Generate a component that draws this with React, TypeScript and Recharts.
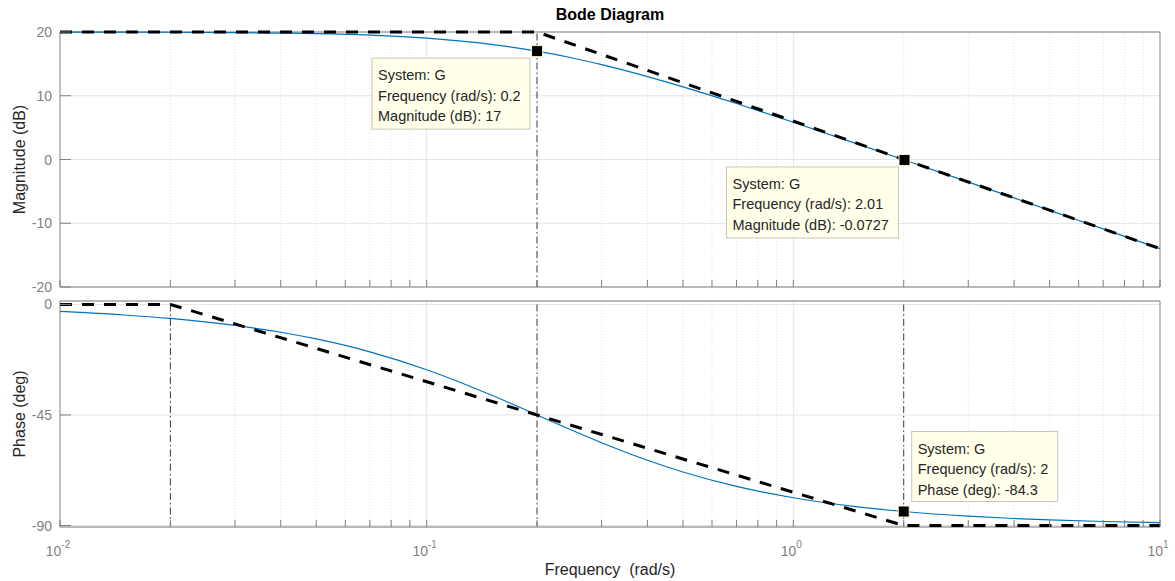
import {
  CartesianGrid,
  Label,
  Line,
  LineChart,
  ReferenceDot,
  ReferenceLine,
  XAxis,
  YAxis,
} from "recharts";

// frequency response of G (rad/s, dB, deg)
const frequency = [0.01, 0.015, 0.02, 0.03, 0.04, 0.05, 0.07, 0.1, 0.15, 0.2, 0.25, 0.3, 0.4, 0.5, 0.7, 1, 1.5, 2, 3, 4, 5, 7, 10];
const magnitudeDb = [19.99, 19.98, 19.96, 19.9, 19.83, 19.74, 19.5, 19.03, 18.06, 16.99, 15.92, 14.88, 13.01, 11.4, 8.78, 5.85, 2.42, -0.04, -3.54, -6.03, -7.97, -10.88, -13.98];
const phaseDeg = [-2.86, -4.29, -5.71, -8.53, -11.31, -14.04, -19.29, -26.57, -36.87, -45, -51.34, -56.31, -63.43, -68.2, -74.05, -78.69, -82.41, -84.29, -86.19, -87.14, -87.71, -88.36, -88.85];

// straight-line asymptotes
const magAsymptoteFreq = [0.01, 0.2, 10];
const magAsymptoteDb = [20, 20, -13.98];
const phaseAsymptoteFreq = [0.01, 0.02, 2, 10];
const phaseAsymptoteDeg = [0, 0, -90, -90];

// axes
const decadeTicks = [0.01, 0.1, 1, 10];
const minorTicks = [
  0.02, 0.03, 0.04, 0.05, 0.06, 0.07, 0.08, 0.09,
  0.2, 0.3, 0.4, 0.5, 0.6, 0.7, 0.8, 0.9,
  2, 3, 4, 5, 6, 7, 8, 9,
];
const magTicks = [-20, -10, 0, 10, 20];
const phaseTicks = [-90, -45, 0];

// data tips
const magTipFreq = [0.2, 2.01];
const magTipValue = [17, -0.0727];
const phaseTipFreq = [2];
const phaseTipValue = [-84.3];

// dash-dot guide lines
const magGuideFreq = [0.2];
const phaseGuideFreq = [0.02, 0.2, 2];

const W = 1175;
const H = 581;
const AXIS = "#808080";
const TICK_TEXT = "#7f7f7f";
const GRID = "#e4e4e4";
const FONT = "'Liberation Sans', Arial, sans-serif";

const allTicks = [...decadeTicks, ...minorTicks].sort((a, b) => a - b);

const toRows = (xs: number[], ys: number[]) => xs.map((f, i) => ({ f, y: ys[i] }));

interface TipProps {
  cx?: number;
  cy?: number;
  lines: string[];
  dx: number;
  dy: number;
  w: number;
  h: number;
}

function DataTip({ cx = 0, cy = 0, lines, dx, dy, w, h }: TipProps) {
  const bx = cx + dx;
  const by = cy + dy;
  return (
    <g>
      <rect x={bx} y={by} width={w} height={h} fill="#ffffea" stroke="#c6c6bc" />
      {lines.map((t, i) => (
        <text key={i} x={bx + 6} y={by + 22 + i * 20.5} fontSize={14.5} fill="#262626" fontFamily={FONT}>
          {t}
        </text>
      ))}
      <rect x={cx - 5.5} y={cy - 5.5} width={11} height={11} fill="#000" stroke="#f4f4c8" strokeWidth={1} />
    </g>
  );
}

// inward tick marks, drawn by hand so they point into the plot like MATLAB's
function LeftTick(props: any) {
  const { x, y, payload } = props;
  return (
    <g>
      <line x1={x} x2={x + 11} y1={y} y2={y} stroke={AXIS} />
      <text x={x - 8} y={y + 5} textAnchor="end" fill={TICK_TEXT} fontSize={14} fontFamily={FONT}>
        {payload.value}
      </text>
    </g>
  );
}

function RightTick(props: any) {
  const { x, y } = props;
  return <line x1={x - 11} x2={x} y1={y} y2={y} stroke={AXIS} />;
}

function TopTick(props: any) {
  const { x, y } = props;
  return <line x1={x} x2={x} y1={y} y2={y + 7} stroke={AXIS} />;
}

function BottomTick(props: any) {
  const { x, y } = props;
  return <line x1={x} x2={x} y1={y - 7} y2={y} stroke={AXIS} />;
}

function BottomTickLabelled(props: any) {
  const { x, y, payload } = props;
  const isDecade = decadeTicks.includes(payload.value);
  const exp = Math.round(Math.log10(payload.value));
  return (
    <g>
      <line x1={x} x2={x} y1={y - 7} y2={y} stroke={AXIS} />
      {isDecade && (
        <text x={x - 2} y={y + 29} textAnchor="middle" fill={TICK_TEXT} fontSize={14} fontFamily={FONT}>
          10
          <tspan dy={-8} fontSize={10}>
            {exp}
          </tspan>
        </text>
      )}
    </g>
  );
}

function yLabel(text: string) {
  return (props: any) => {
    const vb = props.viewBox;
    const x = vb.x + 15;
    const y = vb.y + vb.height / 2;
    return (
      <text x={x} y={y} transform={`rotate(-90 ${x} ${y})`} textAnchor="middle" fontSize={16} fill="#262626" fontFamily={FONT}>
        {text}
      </text>
    );
  };
}

function xAxes(bottomLabels: boolean) {
  return [
    <XAxis
      key="bottom"
      dataKey="f"
      type="number"
      scale="log"
      domain={[0.01, 10]}
      ticks={allTicks}
      interval={0}
      height={1}
      tickSize={0}
      tickMargin={0}
      tickLine={false}
      axisLine={{ stroke: AXIS }}
      tick={bottomLabels ? <BottomTickLabelled /> : <BottomTick />}
    >
      {bottomLabels && (
        <Label
          content={(p: any) => (
            <text x={p.viewBox.x + p.viewBox.width / 2} y={p.viewBox.y + 48} textAnchor="middle" fontSize={16} fill="#262626" fontFamily={FONT}>
              {"Frequency\u00a0 (rad/s)"}
            </text>
          )}
        />
      )}
    </XAxis>,
    <XAxis
      key="top"
      xAxisId="top"
      orientation="top"
      dataKey="f"
      type="number"
      scale="log"
      domain={[0.01, 10]}
      ticks={allTicks}
      interval={0}
      height={1}
      tickSize={0}
      tickMargin={0}
      tickLine={false}
      axisLine={{ stroke: AXIS }}
      tick={<TopTick />}
    >
      {!bottomLabels && (
        <Label
          content={(p: any) => (
            <text x={p.viewBox.x + p.viewBox.width / 2} y={p.viewBox.y + p.viewBox.height - 12} textAnchor="middle" fontSize={16} fontWeight="bold" fill="#000" fontFamily={FONT}>
              Bode Diagram
            </text>
          )}
        />
      )}
    </XAxis>,
  ];
}

function yAxes(domain: [number, number], ticks: number[], title: string) {
  return [
    <YAxis
      key="left"
      domain={domain}
      ticks={ticks}
      interval={0}
      width={50}
      tickSize={0}
      tickMargin={0}
      tickLine={false}
      axisLine={{ stroke: AXIS }}
      tick={<LeftTick />}
    >
      <Label content={yLabel(title)} />
    </YAxis>,
    <YAxis
      key="right"
      yAxisId="right"
      orientation="right"
      domain={domain}
      ticks={ticks}
      interval={0}
      width={1}
      tickSize={0}
      tickMargin={0}
      tickLine={false}
      axisLine={{ stroke: AXIS }}
      tick={<RightTick />}
    />,
  ];
}

function gridLines() {
  return [
    ...minorTicks.map((f) => <ReferenceLine key={`m${f}`} x={f} stroke="#dedede" strokeDasharray="1 2" />),
    ...decadeTicks.slice(1, -1).map((f) => <ReferenceLine key={`d${f}`} x={f} stroke={GRID} />),
  ];
}

function App() {
  const lineZ: any = { zIndex: 650 };
  return (
    <div style={{ position: "absolute", left: 0, top: 0, width: W, height: H, background: "#fff", fontFamily: FONT }}>
      {/* magnitude */}
      <div style={{ position: "absolute", left: 0, top: 0 }}>
        <LineChart width={W} height={H} margin={{ top: 31, right: 14, bottom: H - 288, left: 10 }}>
          <CartesianGrid vertical={false} stroke={GRID} />
          {gridLines()}
          {xAxes(false)}
          {yAxes([-20, 20], magTicks, "Magnitude (dB)")}
          {magGuideFreq.map((f) => (
            <ReferenceLine key={`g${f}`} x={f} stroke="#3a3a3a" strokeDasharray="7 3 1.5 3" />
          ))}
          <Line data={toRows(frequency, magnitudeDb)} dataKey="y" type="monotone" stroke="#0072bd" strokeWidth={1.2} dot={false} isAnimationActive={false} {...lineZ} />
          <Line data={toRows(magAsymptoteFreq, magAsymptoteDb)} dataKey="y" type="linear" stroke="#000" strokeWidth={3} strokeDasharray="12 10" dot={false} isAnimationActive={false} {...lineZ} />
          <ReferenceDot
            x={magTipFreq[0]}
            y={magTipValue[0]}
            r={5}
            {...lineZ}
            shape={(p: any) => (
              <DataTip cx={p.cx} cy={p.cy} dx={-165} dy={7} w={158} h={71}
                lines={["System: G", `Frequency (rad/s): ${magTipFreq[0]}`, `Magnitude (dB): ${magTipValue[0]}`]} />
            )}
          />
          <ReferenceDot
            x={magTipFreq[1]}
            y={magTipValue[1]}
            r={5}
            {...lineZ}
            shape={(p: any) => (
              <DataTip cx={p.cx} cy={p.cy} dx={-178} dy={7} w={172} h={71}
                lines={["System: G", `Frequency (rad/s): ${magTipFreq[1]}`, `Magnitude (dB): ${magTipValue[1]}`]} />
            )}
          />
        </LineChart>
      </div>
      {/* phase */}
      <div style={{ position: "absolute", left: 0, top: 0 }}>
        <LineChart width={W} height={H} margin={{ top: 300, right: 14, bottom: H - 528, left: 10 }}>
          <CartesianGrid vertical={false} stroke={GRID} />
          {gridLines()}
          {xAxes(true)}
          {yAxes([-90.6, 1.4], phaseTicks, "Phase (deg)")}
          {phaseGuideFreq.map((f) => (
            <ReferenceLine key={`g${f}`} segment={[{ x: f, y: 0 }, { x: f, y: -90 }]} stroke="#3a3a3a" strokeDasharray="7 3 1.5 3" />
          ))}
          <Line data={toRows(frequency, phaseDeg)} dataKey="y" type="monotone" stroke="#0072bd" strokeWidth={1.2} dot={false} isAnimationActive={false} {...lineZ} />
          <Line data={toRows(phaseAsymptoteFreq, phaseAsymptoteDeg)} dataKey="y" type="linear" stroke="#000" strokeWidth={3} strokeDasharray="12 10" dot={false} isAnimationActive={false} {...lineZ} />
          <ReferenceDot
            x={phaseTipFreq[0]}
            y={phaseTipValue[0]}
            r={5}
            {...lineZ}
            shape={(p: any) => (
              <DataTip cx={p.cx} cy={p.cy} dx={8} dy={-80} w={146} h={70}
                lines={["System: G", `Frequency (rad/s): ${phaseTipFreq[0]}`, `Phase (deg): ${phaseTipValue[0]}`]} />
            )}
          />
        </LineChart>
      </div>
    </div>
  );
}

export default App;
